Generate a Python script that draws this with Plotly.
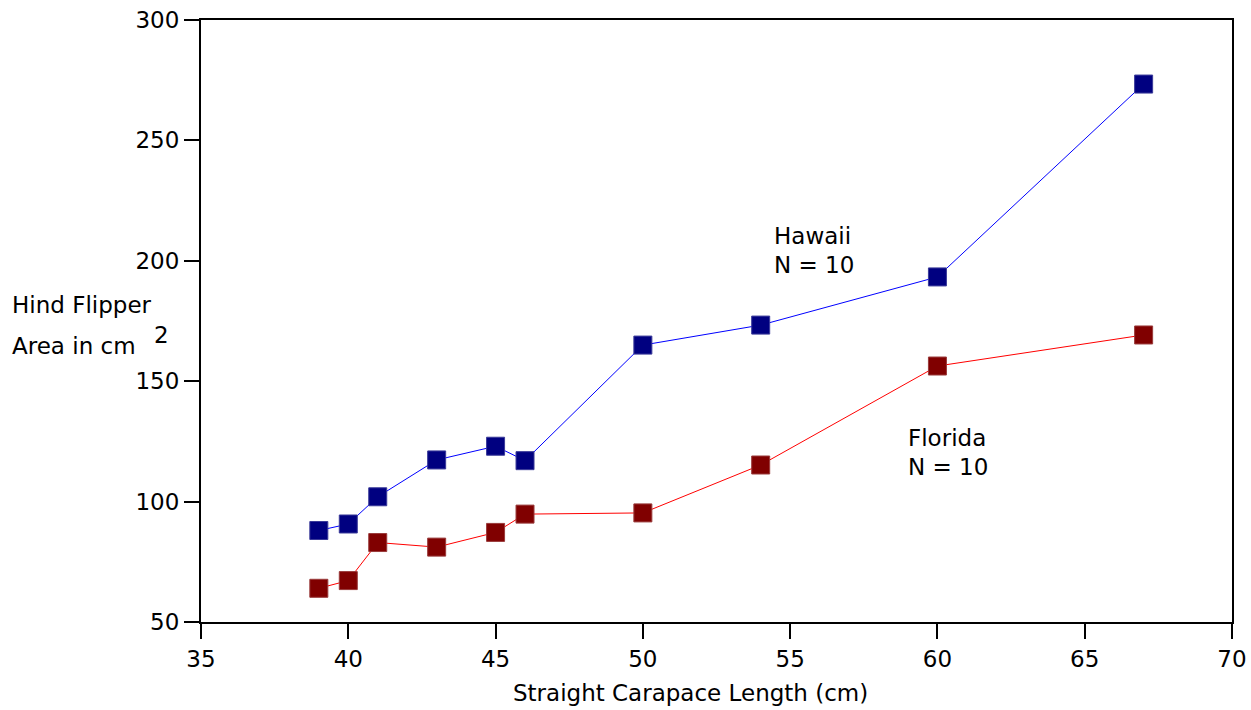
import plotly.graph_objects as go

length_cm = [39, 40, 41, 43, 45, 46, 50, 54, 60, 67]
hawaii_area = [88, 90.7, 102, 117.3, 123, 117, 165, 173.3, 193.3, 273.4]
florida_area = [64, 67.2, 83, 81.1, 87.2, 94.8, 95.3, 115.2, 156.3, 169.2]

x_ticks = [35, 40, 45, 50, 55, 60, 65, 70]
y_ticks = [50, 100, 150, 200, 250, 300]

FONT = "DejaVu Sans"
FS = 23

fig = go.Figure()
fig.add_trace(go.Scatter(
    x=length_cm, y=hawaii_area, mode="lines+markers", name="Hawaii",
    line=dict(color="#0000FF", width=1),
    marker=dict(symbol="square", size=18, color="#000080",
                line=dict(color="#3a3a99", width=1)),
))
fig.add_trace(go.Scatter(
    x=length_cm, y=florida_area, mode="lines+markers", name="Florida",
    line=dict(color="#FF0000", width=1),
    marker=dict(symbol="square", size=18, color="#800000",
                line=dict(color="#993a3a", width=1)),
))

axis_common = dict(
    showgrid=False, zeroline=False, showline=True, linecolor="black",
    linewidth=2, mirror=True, ticks="outside", ticklen=15, tickwidth=2,
    tickcolor="black", tickfont=dict(family=FONT, size=FS, color="black"),
    automargin=False, ticklabeloverflow="allow",
)
fig.update_xaxes(range=[35, 70], tickvals=x_ticks, **axis_common)
fig.update_yaxes(range=[50, 300], tickvals=y_ticks, **axis_common)

ann = []
def txt(x, y, s, xref="x", yref="y", xanchor="left"):
    ann.append(dict(x=x, y=y, xref=xref, yref=yref, text=s, showarrow=False,
                    xanchor=xanchor, yanchor="middle",
                    font=dict(family=FONT, size=FS, color="black")))

txt(54.38, 210.3, "Hawaii")
txt(54.38, 198.3, "N = 10")
txt(58.93, 126.4, "Florida")
txt(58.93, 114.4, "N = 10")
txt(-0.185, 0.5266, "Hind Flipper", xref="paper", yref="paper")
txt(-0.185, 0.4585, "Area in cm", xref="paper", yref="paper")
txt(-0.0475, 0.4767, "2", xref="paper", yref="paper")
txt(0.4743, -0.1180, "Straight Carapace Length (cm)", xref="paper", yref="paper",
    xanchor="center")

fig.update_layout(
    width=1251, height=710,
    margin=dict(l=201, r=19, t=20, b=88),
    paper_bgcolor="white", plot_bgcolor="white",
    showlegend=False,
    annotations=ann,
    font=dict(family=FONT, size=FS, color="black"),
)

# remove the page's default 8px body margin so the figure fills the window
fig.write_html("out.html",
               config={"displayModeBar": False},
               post_script="document.body.style.margin='0';"
                           "document.body.style.overflow='hidden';")
